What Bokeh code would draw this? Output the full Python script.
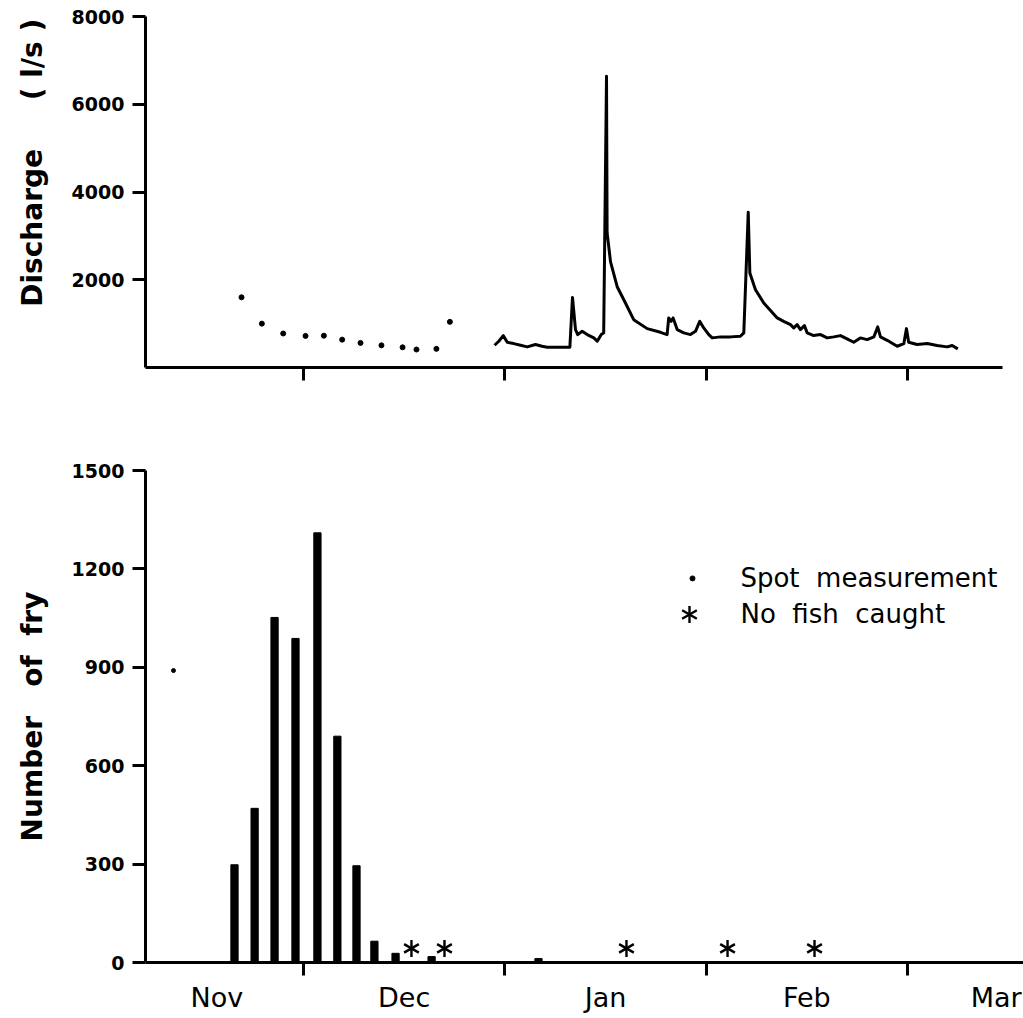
from bokeh.plotting import figure
from bokeh.layouts import column
from bokeh.models import FixedTicker, Range1d, Label
from bokeh.embed import file_html
from bokeh.resources import INLINE

# ---------------- data (x in "month units": 1 = 1 Dec, 2 = 1 Jan, 3 = 1 Feb, 4 = 1 Mar) ----
month_boundaries = [1, 2, 3, 4]
month_label_pos = [0.57, 1.5, 2.5, 3.5, 4.44]
month_labels = ["Nov", "Dec", "Jan", "Feb", "Mar"]

# spot discharge measurements (l/s)
spot_t = [0.692, 0.793, 0.899, 1.010, 1.101, 1.192, 1.283, 1.387, 1.492, 1.561, 1.660, 1.727]
spot_q = [1600, 1000, 775, 720, 725, 635, 560, 505, 460, 410, 425, 1040]

# continuous discharge record (l/s)
flow_t = [1.949, 1.970, 1.992, 2.012, 2.044, 2.078, 2.111, 2.152, 2.185, 2.210, 2.260, 2.323,
          2.336, 2.351, 2.362, 2.384, 2.409, 2.442, 2.459, 2.479, 2.491, 2.505, 2.508, 2.525,
          2.558, 2.599, 2.640, 2.707, 2.773, 2.806, 2.814, 2.826, 2.836, 2.856, 2.889, 2.922,
          2.947, 2.968, 2.988, 3.013, 3.030, 3.071, 3.121, 3.170, 3.187, 3.209, 3.217, 3.245,
          3.286, 3.353, 3.385, 3.419, 3.435, 3.452, 3.468, 3.488, 3.502, 3.534, 3.568, 3.601,
          3.634, 3.667, 3.700, 3.733, 3.766, 3.800, 3.833, 3.852, 3.866, 3.899, 3.949, 3.982,
          3.995, 4.006, 4.048, 4.098, 4.147, 4.197, 4.222, 4.250]
flow_q = [507, 598, 727, 575, 545, 507, 470, 523, 484, 461, 461, 461,
          1598, 864, 750, 825, 750, 675, 598, 750, 789, 6640, 3068, 2409,
          1841, 1470, 1091, 886, 802, 750, 1130, 1052, 1130, 864, 789, 750,
          825, 1052, 902, 750, 675, 698, 698, 711, 789, 3540, 2152, 1773,
          1470, 1130, 1052, 977, 902, 977, 864, 955, 789, 727, 750, 675,
          698, 727, 652, 575, 675, 636, 698, 925, 698, 620, 484, 545,
          886, 575, 523, 545, 500, 470, 500, 425]

# fry caught per sample
fry_t = [0.657, 0.757, 0.856, 0.960, 1.069, 1.168, 1.263, 1.352, 1.457, 1.636, 2.167]
fry_n = [298, 470, 1052, 988, 1310, 690, 295, 65, 28, 18, 12]

# samples with no fish caught
nofish_t = [1.536, 1.700, 2.604, 3.106, 3.538]

# isolated dot in lower panel
stray_t = [0.354]
stray_n = [890]

FONT = "DejaVu Sans"
NB = "\u00a0"
X_START = 0.215

# ---------------- top panel: discharge ----------------
p1 = figure(frame_width=857, frame_height=351, output_backend="svg", toolbar_location=None,
            x_range=Range1d(X_START, 4.472), y_range=Range1d(0, 8000),
            min_border_left=145, min_border_right=21, min_border_top=16, min_border_bottom=60)
p1.line(flow_t, flow_q, line_color="black", line_width=3, line_join="round")
p1.scatter(spot_t, spot_q, size=5, color="black")

# ---------------- bottom panel: fry ----------------
p2 = figure(frame_width=878, frame_height=492, output_backend="svg", toolbar_location=None,
            x_range=Range1d(X_START, 4.576), y_range=Range1d(0, 1500),
            min_border_left=145, min_border_right=0, min_border_top=43, min_border_bottom=56)
p2.vbar(x=fry_t, top=fry_n, bottom=0, width=0.036, color="black")
star_y = [43] * len(nofish_t)
for ang in (90, 30, -30):
    p2.scatter(nofish_t, star_y, marker="dash", size=17, angle=ang, angle_units="deg",
               line_color="black", line_width=2.4)
p2.scatter(stray_t, stray_n, size=4, color="black")

# legend
p2.scatter([2.932], [1171], size=5, color="black")
for ang in (90, 30, -30):
    p2.scatter([2.917], [1061], marker="dash", size=17, angle=ang, angle_units="deg",
               line_color="black", line_width=2.4)
p2.add_layout(Label(x=3.17, y=1171, text="Spot" + NB * 2 + "measurement", text_baseline="middle",
                    text_font=FONT, text_font_size="26px", text_color="black"))
p2.add_layout(Label(x=3.17, y=1061, text="No" + NB * 2 + "fish" + NB * 2 + "caught",
                    text_baseline="middle",
                    text_font=FONT, text_font_size="26px", text_color="black"))

for p in (p1, p2):
    p.grid.visible = False
    p.outline_line_color = None
    p.background_fill_color = "white"
    p.border_fill_color = "white"
    for ax in (p.xaxis[0], p.yaxis[0]):
        ax.axis_line_width = 3
        ax.axis_line_color = "black"
        ax.major_tick_line_width = 3
        ax.major_tick_line_color = "black"
        ax.major_tick_in = 0
        ax.minor_tick_in = 0
        ax.minor_tick_line_width = 3
        ax.minor_tick_line_color = "black"
        ax.major_label_text_font = FONT
        ax.major_label_text_color = "black"
        ax.axis_label_text_font = FONT
        ax.axis_label_text_font_style = "bold"
        ax.axis_label_text_color = "black"
    p.yaxis[0].major_tick_out = 13
    p.yaxis[0].major_label_standoff = 8
    p.yaxis[0].major_label_text_font_size = "19px"
    p.yaxis[0].major_label_text_font_style = "bold"
    p.yaxis[0].axis_label_text_font_size = "28px"
    p.yaxis[0].axis_label_standoff = 20

p1.yaxis[0].ticker = FixedTicker(ticks=[2000, 4000, 6000, 8000])
p1.yaxis[0].axis_label = NB * 6 + "Discharge" + NB * 5 + "(" + NB + "l/s" + NB + ")"
p1.xaxis[0].ticker = FixedTicker(ticks=[], minor_ticks=month_boundaries)
p1.xaxis[0].minor_tick_out = 13
p1.xaxis[0].major_label_text_font_size = "0px"

p2.yaxis[0].ticker = FixedTicker(ticks=[0, 300, 600, 900, 1200, 1500])
p2.yaxis[0].axis_label = "Number" + NB * 3 + "of" + NB * 2 + "fry"
p2.xaxis[0].ticker = FixedTicker(ticks=month_label_pos, minor_ticks=month_boundaries)
p2.xaxis[0].major_label_overrides = {v: s for v, s in zip(month_label_pos, month_labels)}
p2.xaxis[0].major_tick_out = 0
p2.xaxis[0].minor_tick_out = 13
p2.xaxis[0].major_label_standoff = 6
p2.xaxis[0].major_label_text_font_size = "27px"

layout = column(p1, p2, spacing=0)
open("out.html", "w").write(file_html(layout, INLINE))
